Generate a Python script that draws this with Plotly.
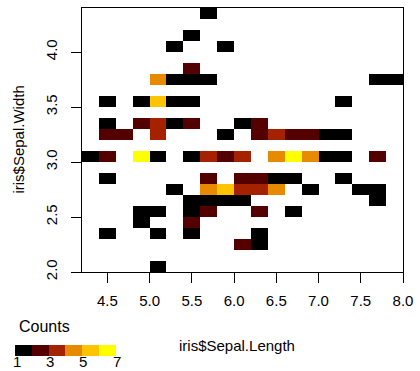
import plotly.graph_objects as go

# Bin centres (Sepal.Length bins of width 0.2, Sepal.Width bins of width 0.1)
x_centers = [4.3, 4.5, 4.7, 4.9, 5.1, 5.3, 5.5, 5.7, 5.9, 6.1, 6.3, 6.5, 6.7, 6.9, 7.1, 7.3, 7.5, 7.7, 7.9]
y_centers = [2.05, 2.15, 2.25, 2.35, 2.45, 2.55, 2.65, 2.75, 2.85, 2.95, 3.05, 3.15,
             3.25, 3.35, 3.45, 3.55, 3.65, 3.75, 3.85, 3.95, 4.05, 4.15, 4.25, 4.35]

# Non-empty cells
cell_x = [5.7,
          5.5,
          5.3, 5.9,
          5.5,
          5.1, 5.3, 5.5, 5.7, 7.7, 7.9,
          4.5, 4.9, 5.1, 5.3, 5.5, 7.3,
          4.5, 4.9, 5.1, 5.3, 5.5, 6.1, 6.3,
          4.5, 4.7, 5.1, 5.9, 6.3, 6.5, 6.7, 6.9, 7.1, 7.3,
          4.3, 4.5, 4.9, 5.1, 5.5, 5.7, 5.9, 6.1, 6.5, 6.7, 6.9, 7.1, 7.3, 7.7,
          4.5, 5.7, 6.1, 6.3, 6.5, 6.7, 7.3,
          5.3, 5.7, 5.9, 6.1, 6.3, 6.5, 6.9, 7.5, 7.7,
          5.5, 5.7, 5.9, 6.1, 7.7,
          4.9, 5.1, 5.5, 5.7, 6.3, 6.7,
          4.9, 5.5,
          4.5, 5.1, 5.5, 6.3,
          6.1, 6.3,
          5.1]
cell_y = [4.35,
          4.15,
          4.05, 4.05,
          3.85,
          3.75, 3.75, 3.75, 3.75, 3.75, 3.75,
          3.55, 3.55, 3.55, 3.55, 3.55, 3.55,
          3.35, 3.35, 3.35, 3.35, 3.35, 3.35, 3.35,
          3.25, 3.25, 3.25, 3.25, 3.25, 3.25, 3.25, 3.25, 3.25, 3.25,
          3.05, 3.05, 3.05, 3.05, 3.05, 3.05, 3.05, 3.05, 3.05, 3.05, 3.05, 3.05, 3.05, 3.05,
          2.85, 2.85, 2.85, 2.85, 2.85, 2.85, 2.85,
          2.75, 2.75, 2.75, 2.75, 2.75, 2.75, 2.75, 2.75, 2.75,
          2.65, 2.65, 2.65, 2.65, 2.65,
          2.55, 2.55, 2.55, 2.55, 2.55, 2.55,
          2.45, 2.45,
          2.35, 2.35, 2.35, 2.35,
          2.25, 2.25,
          2.05]
cell_count = [1,
              1,
              1, 1,
              2,
              4, 1, 1, 1, 1, 1,
              1, 1, 5, 1, 1, 1,
              1, 2, 3, 1, 2, 1, 2,
              2, 2, 3, 1, 2, 3, 2, 2, 1, 1,
              1, 2, 6, 1, 1, 3, 2, 3, 4, 6, 4, 1, 1, 2,
              1, 2, 2, 2, 1, 1, 1,
              1, 4, 5, 3, 3, 4, 1, 1, 1,
              1, 1, 1, 1, 1,
              1, 1, 1, 2, 2, 1,
              1, 2,
              1, 1, 1, 1,
              2, 1,
              1]

x_ticks = [4.5, 5.0, 5.5, 6.0, 6.5, 7.0, 7.5, 8.0]
y_ticks = [2.0, 2.5, 3.0, 3.5, 4.0]
key_ticks = [1, 3, 5, 7]
key_colors = ['#000000', '#550000', '#A52200', '#E88A00', '#FFC400', '#FFFF00']

# grid table built from the cell lists
z = [[None] * len(x_centers) for _ in y_centers]
for xv, yv, c in zip(cell_x, cell_y, cell_count):
    z[y_centers.index(yv)][x_centers.index(xv)] = c

n = len(key_colors)
colorscale = []
for i, col in enumerate(key_colors):
    lo = i / n
    hi = (i + 1) / n
    colorscale.append([lo, col])
    colorscale.append([hi - 1e-6 if i < n - 1 else 1.0, col])

FONT = 'Liberation Sans, Arial, sans-serif'
W, H = 420, 371
L, R, T, B = 82, 14, 7, 99
PW, PH = W - L - R, H - T - B

# colour key geometry (pixels)
KEY_X0, KEY_LEN, KEY_TOP, KEY_THICK = 16, 101, 346, 11
zmin, zmax = 1, 7


def px_to_paper_x(px):
    return (px - L) / PW


def px_to_paper_y(py):
    return (H - B - py) / PH


fig = go.Figure(go.Heatmap(
    x=x_centers, y=y_centers, z=z, zmin=zmin, zmax=zmax,
    colorscale=colorscale, hoverongaps=False,
    colorbar=dict(
        orientation='h', xref='container', yref='container',
        x=(KEY_X0 + 4) / W, xanchor='left', y=1 - (KEY_TOP - 1) / H, yanchor='top',
        len=KEY_LEN, lenmode='pixels', thickness=KEY_THICK, thicknessmode='pixels',
        outlinewidth=0, xpad=0, ypad=0,
        tickvals=key_ticks, ticks='', ticklen=0, showticklabels=False,
    ),
))

annotations = [
    dict(text='iris$Sepal.Length', xref='paper', yref='paper', x=px_to_paper_x(238.7), y=px_to_paper_y(346),
         xanchor='center', yanchor='middle', showarrow=False, font=dict(size=15)),
    dict(text='iris$Sepal.Width', xref='paper', yref='paper', x=px_to_paper_x(17), y=0.5,
         xanchor='center', yanchor='middle', textangle=-90, showarrow=False, font=dict(size=15)),
    dict(text='Counts', xref='paper', yref='paper', x=px_to_paper_x(16), y=px_to_paper_y(327),
         xanchor='left', yanchor='middle', showarrow=False, font=dict(size=16)),
]
# key tick labels placed along the key's value scale
for v in key_ticks:
    xpx = KEY_X0 + (v - zmin) / (zmax - zmin) * KEY_LEN
    annotations.append(dict(text=str(v), xref='paper', yref='paper', x=px_to_paper_x(xpx),
                            y=px_to_paper_y(371), xanchor='center', yanchor='bottom',
                            borderpad=0, showarrow=False, font=dict(size=15)))

fig.update_layout(
    width=W, height=H,
    margin=dict(l=L, r=R, t=T, b=B),
    paper_bgcolor='white', plot_bgcolor='white',
    font=dict(family=FONT, size=15, color='black'),
    xaxis=dict(range=[4.2, 8.0], tickvals=x_ticks, ticktext=[f'{v:.1f}' for v in x_ticks],
               ticks='outside', ticklen=10, tickcolor='black', tickwidth=1,
               ticklabelstandoff=5,
               showline=True, linecolor='black', linewidth=1, mirror=True,
               showgrid=False, zeroline=False, tickfont=dict(size=15)),
    yaxis=dict(range=[2.0, 4.4], tickvals=y_ticks, ticktext=[f'{v:.1f}' for v in y_ticks],
               ticks='outside', ticklen=10, tickcolor='black', tickwidth=1, tickangle=-90,
               ticklabelstandoff=8,
               showline=True, linecolor='black', linewidth=1, mirror=True,
               showgrid=False, zeroline=False, tickfont=dict(size=15)),
    annotations=annotations,
)

fig.write_html('out.html')
